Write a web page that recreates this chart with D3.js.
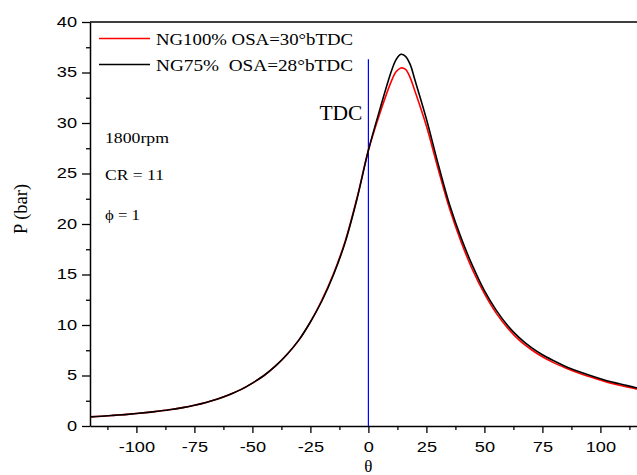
<!DOCTYPE html>
<html lang="en">
<head>
<meta charset="UTF-8">
<title>P vs theta</title>
<script src="https://d3js.org/d3.v7.min.js"></script>
<style>
  body { margin: 0; background: #fff; }
</style>
</head>
<body>
<div class="chart"></div>
<script>
// crank angle (deg) and cylinder pressure (bar)
const theta = [-120,-115,-110,-105,-100,-95,-90,-85,-80,-75,-70,-65,-60,-55,-50,-45,-40,-35,-30,-25,-20,-15,-10,-5,
               0,5,10,12,14,16,18,20,25,30,35,40,45,50,55,60,65,70,75,80,85,90,95,100,105,110,115,120]
const pNG100 = [0.9,0.97,1.05,1.13,1.23,1.35,1.48,1.63,1.82,2.05,2.33,2.68,3.1,3.6,4.25,5.0,5.95,7.1,8.5,10.3,12.5,15.1,18.3,22.5,
               27.3,31.0,34.2,35.1,35.45,35.3,34.5,33.2,29.7,25.5,21.5,18.2,15.4,13.1,11.2,9.7,8.5,7.6,6.85,6.25,5.75,5.3,4.9,4.55,4.22,3.95,3.7,3.5]
const pNG75 = [0.9,0.97,1.05,1.13,1.23,1.35,1.48,1.63,1.82,2.05,2.33,2.68,3.1,3.6,4.25,5.0,5.95,7.1,8.5,10.3,12.4,15.0,18.2,22.4,
               27.3,31.4,35.2,36.3,36.8,36.6,35.8,34.3,30.4,26.0,21.9,18.6,15.8,13.4,11.5,9.95,8.75,7.8,7.05,6.45,5.9,5.45,5.05,4.68,4.35,4.08,3.82,3.6]

const xTicks = [-100,-75,-50,-25,0,25,50,75,100]
const xMinor = [-112.5,-87.5,-62.5,-37.5,-12.5,12.5,37.5,62.5,87.5,112.5]
const yTicks = [0,5,10,15,20,25,30,35,40]
const yMinor = [2.5,7.5,12.5,17.5,22.5,27.5,32.5,37.5]

const seriesNames = ['NG100% OSA=30°bTDC', 'NG75%\u00a0\u00a0OSA=28°bTDC']
const seriesColors = ['#ff0000', '#000000']
const notes = ['1800rpm', 'CR = 11', 'ϕ = 1']

const width = 637, height = 475
const mLeft = 90, mTop = 22, mBottom = 426, mRight = 646.8

const svg = d3.select('.chart').append('svg')
    .attr('width', width)
    .attr('height', height)
    .style('display', 'block')

const x = d3.scaleLinear().domain([-120, 120]).range([mLeft, mRight])
const y = d3.scaleLinear().domain([0, 40]).range([mBottom, mTop])

const tickFont = '"Liberation Sans", Arial, sans-serif'
const serif = '"Liberation Serif", "Times New Roman", serif'
const sx = 1.3 // tick labels look stretched sideways in the original
const plain = d => String(d) // ascii hyphen instead of d3's unicode minus

// frame (top + right edges, right one falls off the canvas)
svg.append('path')
    .attr('d', `M${mLeft},${mTop}H${mRight}V${mBottom}`)
    .attr('fill', 'none')
    .attr('stroke', '#000')
    .attr('stroke-width', 1.5)

// x axis
const gx = svg.append('g')
    .attr('transform', `translate(0,${mBottom})`)
    .call(d3.axisBottom(x).tickValues(xTicks).tickFormat(plain).tickSize(7).tickPadding(9).tickSizeOuter(0))
gx.select('.domain').attr('stroke-width', 1.5)
gx.selectAll('.tick line').attr('stroke-width', 1.3)
gx.selectAll('.tick text')
    .attr('font-family', tickFont).attr('font-size', 14).attr('fill', '#000')
    .attr('transform', `scale(${sx},1)`)
svg.append('g')
    .attr('transform', `translate(0,${mBottom})`)
    .call(d3.axisBottom(x).tickValues(xMinor).tickSize(4).tickFormat(''))
    .call(g => g.select('.domain').remove())
    .selectAll('line').attr('stroke-width', 1.3)

// y axis
const gy = svg.append('g')
    .attr('transform', `translate(${mLeft},0)`)
    .call(d3.axisLeft(y).tickValues(yTicks).tickFormat(plain).tickSize(8).tickPadding(5).tickSizeOuter(0))
gy.select('.domain').attr('stroke-width', 1.5)
gy.selectAll('.tick line').attr('stroke-width', 1.3)
gy.selectAll('.tick text')
    .attr('font-family', tickFont).attr('font-size', 14).attr('fill', '#000')
    .attr('x', -13 / sx)
    .attr('transform', `scale(${sx},1)`)
svg.append('g')
    .attr('transform', `translate(${mLeft},0)`)
    .call(d3.axisLeft(y).tickValues(yMinor).tickSize(4).tickFormat(''))
    .call(g => g.select('.domain').remove())
    .selectAll('line').attr('stroke-width', 1.3)

// TDC marker
svg.append('line')
    .attr('x1', x(0)).attr('x2', x(0))
    .attr('y1', y(36.3)).attr('y2', mBottom)
    .attr('stroke', '#0000ff')
    .attr('stroke-width', 1.2)
svg.append('text')
    .attr('x', x(0) - 6).attr('y', 119.5)
    .attr('text-anchor', 'end')
    .attr('font-family', serif).attr('font-size', 21.5)
    .text('TDC')

// curves
const line = d3.line()
    .x((d, i) => x(theta[i]))
    .y(d => y(d))
    .curve(d3.curveCatmullRom.alpha(0.5))

svg.append('g').selectAll('path')
    .data([pNG100, pNG75])
    .join('path')
    .attr('d', line)
    .attr('fill', 'none')
    .attr('stroke', (d, i) => seriesColors[i])
    .attr('stroke-width', 1.6)

// legend
const leg = svg.append('g').selectAll('g')
    .data(seriesNames)
    .join('g')
    .attr('transform', (d, i) => `translate(99,${38.5 + i * 26})`)
leg.append('line')
    .attr('x1', 0).attr('x2', 51)
    .attr('stroke', (d, i) => seriesColors[i])
    .attr('stroke-width', 1.6)
leg.append('text')
    .attr('x', 57).attr('y', 6.5)
    .attr('font-family', serif).attr('font-size', 17)
    .attr('textLength', 197).attr('lengthAdjust', 'spacingAndGlyphs')
    .text(d => d)

// conditions
svg.append('g').selectAll('text')
    .data(notes)
    .join('text')
    .attr('x', 105)
    .attr('y', (d, i) => [143, 180, 220][i])
    .attr('font-family', serif).attr('font-size', 15)
    .attr('textLength', (d, i) => [64, 59, 35][i]).attr('lengthAdjust', 'spacingAndGlyphs')
    .text(d => d)

// axis titles
svg.append('text')
    .attr('transform', `translate(27,209) rotate(-90)`)
    .attr('text-anchor', 'middle')
    .attr('font-family', serif).attr('font-size', 18.5)
    .text('P (bar)')
svg.append('text')
    .attr('x', x(0)).attr('y', 472)
    .attr('text-anchor', 'middle')
    .attr('font-family', serif).attr('font-size', 17)
    .text('θ')
</script>
</body>
</html>
